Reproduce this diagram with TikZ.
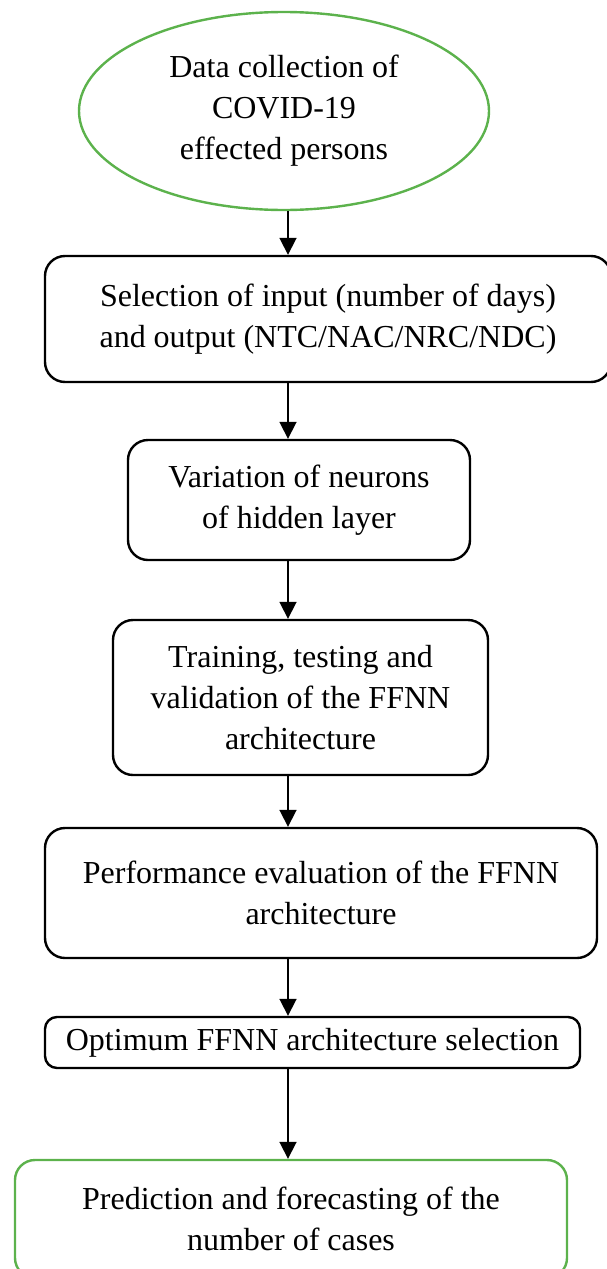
\documentclass[tikz,border=0pt]{standalone}
\usepackage{fontspec}
\setmainfont{Liberation Serif}
\usetikzlibrary{shapes.geometric,arrows.meta}
\definecolor{boxgreen}{RGB}{92,178,76}
\begin{document}
\begin{tikzpicture}[x=1pt,y=-1pt,
  txt/.style={font=\fontsize{32}{41}\selectfont, align=center, inner sep=0pt},
  blackbox/.style={txt, draw=black, line width=2.4pt, rounded corners=20pt},
  greenbox/.style={txt, draw=boxgreen, line width=2.4pt, rounded corners=20pt},
  arr/.style={line width=1.8pt, -{Triangle[width=17pt,length=17pt]}}]
\useasboundingbox (0,0) rectangle (606,1269);
\node[txt, ellipse, draw=boxgreen, line width=2.4pt, minimum width=410pt, minimum height=198pt] (e) at (284,111) {Data collection of\\COVID-19\\effected persons};
\node[blackbox, minimum width=566pt, minimum height=126pt] (b2) at (328,319) {Selection of input (number of days)\\and output (NTC/NAC/NRC/NDC)};
\node[blackbox, minimum width=342pt, minimum height=120pt] (b3) at (299,500) {Variation of neurons\\of hidden layer};
\node[blackbox, minimum width=375pt, minimum height=155pt] (b4) at (300.5,697.5) {Training, testing and\\validation of the FFNN\\architecture};
\node[blackbox, minimum width=552pt, minimum height=130pt] (b5) at (321,893) {Performance evaluation of the FFNN\\architecture};
\node[blackbox, rounded corners=12pt, minimum width=535pt, minimum height=51pt] (b6) at (312.5,1042.5) {Optimum FFNN architecture selection};
\node[greenbox, minimum width=552pt, minimum height=118pt] (b7) at (291,1219) {Prediction and forecasting of the\\number of cases};
\coordinate (ax) at (288,0);
\draw[arr] (ax |- e.south) -- (ax |- b2.north);
\draw[arr] (ax |- b2.south) -- (ax |- b3.north);
\draw[arr] (ax |- b3.south) -- (ax |- b4.north);
\draw[arr] (ax |- b4.south) -- (ax |- b5.north);
\draw[arr] (ax |- b5.south) -- (ax |- b6.north);
\draw[arr] (ax |- b6.south) -- (ax |- b7.north);
\end{tikzpicture}
\end{document}
